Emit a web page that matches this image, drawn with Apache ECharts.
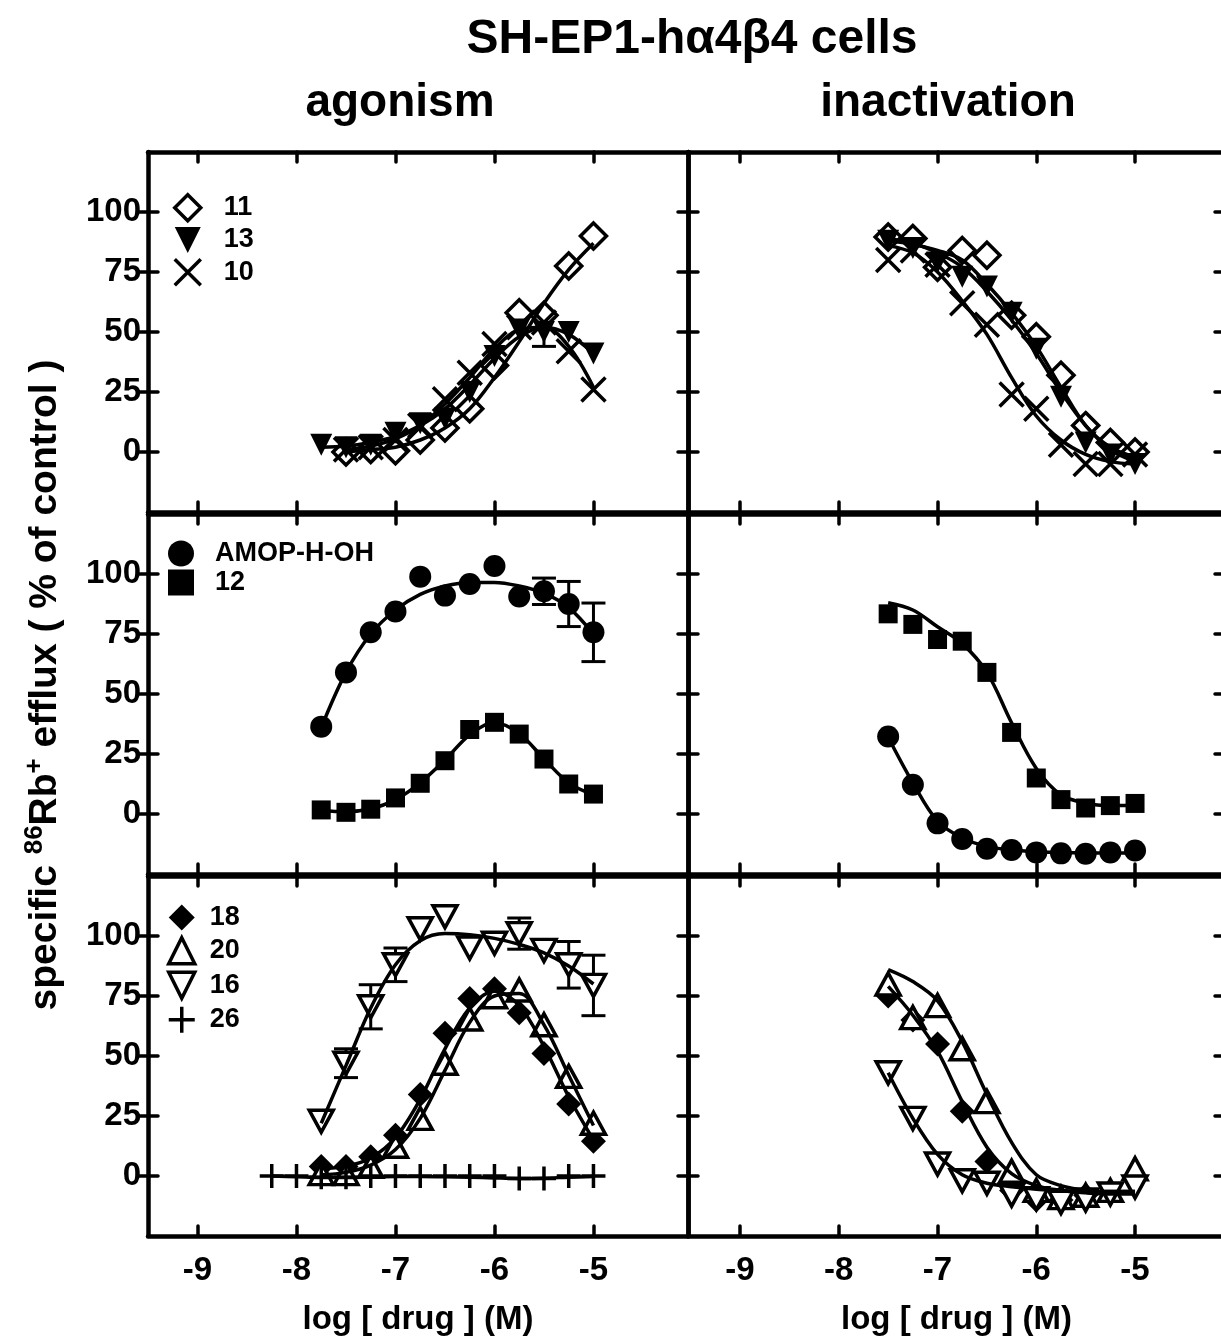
<!DOCTYPE html>
<html><head><meta charset="utf-8">
<script src="https://cdn.jsdelivr.net/npm/echarts@6/dist/echarts.min.js"></script>
<style>html,body{margin:0;padding:0;background:#fff}#c{width:1221px;height:1336px}</style>
</head><body><div id="c"></div><script>
// ---------- data ----------
const X12 = [-7.75,-7.5,-7.25,-7,-6.75,-6.5,-6.25,-6,-5.75,-5.5,-5.25,-5];
const X11 = [-7.5,-7.25,-7,-6.75,-6.5,-6.25,-6,-5.75,-5.5,-5.25,-5];
const X14 = [-8.25,-8,-7.75,-7.5,-7.25,-7,-6.75,-6.5,-6.25,-6,-5.75,-5.5,-5.25,-5];
const xTicks = [-9,-8,-7,-6,-5];
const yTicks = [0,25,50,75,100];

// agonism, top row
const ago11 = [0, 1, 0.5, 5, 10, 18, 36, 58, 57, 77.5, 90];
const ago11Fit = [0, 1, 2, 5, 10, 18, 31, 46, 62, 76, 87];
const ago13 = [3, 2, 3, 8, 12, 14, 25, 40, 51, 50, 50, 41];
const ago13Fit = [2, 2.5, 4, 6.5, 11, 18, 28, 39, 48, 52, 49, 41];
const ago13Err = [0,0,0,0,0,0,0,0,0,6,0,0];
const ago10 = [1, 2, 5, 11, 22, 33, 45, 52, 54, 42, 26];
const ago10Fit = [1, 2.5, 5.5, 11, 20, 31, 43, 51, 52, 44, 27];
// inactivation, top row
const ina11 = [89.6, 89, 77, 84, 82, 57, 48, 32, 11, 4, 0];
const ina11Fit = [88, 86.5, 84, 80, 70, 58, 44, 27, 11, 2, -2];
const ina13 = [88, 85, 79, 73, 69, 58, 43, 23, 4, -1, -5];
const ina13Fit = [89, 87, 83, 77, 67, 55, 41, 25, 11, 1, -4];
const ina10 = [80, 84, 78, 62, 53, 24, 18, 3, -5, -5, -1];
const ina10Fit = [86, 83, 75, 63, 49, 31, 15, 5, -1, -4, -5];
// middle row
const agoAMOP = [36.4, 59, 75.7, 84.4, 98.9, 91, 95.8, 103.3, 90.6, 92.8, 87.5, 75.7];
const agoAMOPFit = [36, 59, 75, 85, 91.5, 95, 96.5, 96.5, 95, 92, 86, 75];
const agoAMOPErr = [0,0,0,0,0,0,0,0,0,5.5,9.4,12.2];
const ago12 = [1.7, 0.7, 2, 6.7, 12.8, 22.2, 35.2, 38.2, 33.3, 22.9, 12.5, 8.3];
const ago12Fit = [1.5, 1, 2.2, 6, 13, 22.5, 33, 38, 33.5, 23, 13, 8];
const inaAMOP = [32.3, 12.2, -3.9, -10.4, -14.5, -15, -16, -16.4, -16.6, -16, -15.2];
const inaAMOPFit = [32, 13, -3, -10, -13.5, -15, -15.7, -16, -16.2, -16.3, -16.3];
const ina12 = [83.4, 79, 72.7, 72, 59, 34, 15, 6, 2.5, 3.5, 4.4];
const ina12Fit = [88, 85, 78, 71, 59, 38, 19, 8, 4.5, 3.5, 3.5];
// bottom row
const ago18 = [4, 4, 8, 17, 34, 59.5, 74, 78, 68, 51, 30, 14.5];
const ago18Fit = [3, 4, 7.5, 16, 32, 53, 70, 77, 71, 54, 33, 15];
const ago20 = [1, 1, 4, 12.4, 24, 47, 65.4, 74.7, 77.5, 63, 41.5, 22];
const ago20Fit = [0.5, 1.5, 4.5, 11, 24, 44, 64, 75, 76, 63, 42, 21];
const ago16 = [22.8, 47, 70.5, 88, 103, 108, 95, 97, 101, 94, 88, 79.4];
const ago16Fit = [22, 46, 70, 88, 98, 101, 100.5, 99, 96.5, 93, 87.5, 80];
const ago16Err = [0, 6, 9.2, 7, 0, 0, 0, 0, 6.5, 0, 9.7, 12.6];
const ago26 = [0, 0, -0.5, -0.5, 0, 0, 0, 0, 0, 0, -1, -1, 0, 0];
const ago26Fit = [0, -0.3, -0.6, -0.6, -0.4, -0.2, -0.2, -0.3, -0.5, -0.8, -1, -0.9, -0.5, -0.2];
const ina18 = [75, 65, 55, 27, 6, -6, -10, -10, -8, -7, -1];
const ina18Fit = [79, 67, 52, 31, 12, 1, -4, -6, -7, -7.5, -7.5];
const ina20 = [80, 66, 71, 53, 31, 2, -6, -9, -8, -6, 3];
const ina20Fit = [86, 81, 73, 56, 34, 14, 0.5, -4, -6, -6.5, -6.5];
const ina16 = [43, 24, 5, -2, -3, -8, -9.5, -11, -10, -7.5, -4.6];
const ina16Fit = [43, 24, 9, 0.5, -3, -4.5, -5.5, -6, -6.5, -6.5, -6.5];

const legendTop = ['11','13','10'];
const legendMid = ['AMOP-H-OH','12'];
const legendBot = ['18','20','16','26'];

// ---------- styling ----------
const FONT = "'Liberation Sans', Arial, Helvetica, sans-serif";
const INK = '#000';
const CLEAR = 'rgba(0,0,0,0)';
const SYM = {
  '11': {symbol:'diamond', size:26, fill:'#fff', bw:3.5},
  '13': {symbol:'path://M0,0L10,0L5,10Z', size:[22,22], fill:INK, bw:0},
  '10': {symbol:'path://M0,0L10,10M10,0L0,10', size:24, fill:CLEAR, bw:3.5},
  'AMOP-H-OH': {symbol:'circle', size:22, fill:INK, bw:0},
  '12': {symbol:'rect', size:19, fill:INK, bw:0},
  '18': {symbol:'diamond', size:25, fill:INK, bw:0},
  '20': {symbol:'path://M5,0L10,10L0,10Z', size:[24,22], fill:'#fff', bw:3.5},
  '16': {symbol:'path://M0,0L10,0L5,10Z', size:[24,22], fill:'#fff', bw:3.5},
  '26': {symbol:'path://M5,0L5,10M0,5L10,5', size:24, fill:CLEAR, bw:3.5}
};

const panels = [
  {row:0,col:0, sets:[['11',X11,ago11,ago11Fit],['13',X12,ago13,ago13Fit,ago13Err],['10',X11,ago10,ago10Fit]]},
  {row:0,col:1, sets:[['11',X11,ina11,ina11Fit],['13',X11,ina13,ina13Fit],['10',X11,ina10,ina10Fit]]},
  {row:1,col:0, sets:[['AMOP-H-OH',X12,agoAMOP,agoAMOPFit,agoAMOPErr],['12',X12,ago12,ago12Fit]]},
  {row:1,col:1, sets:[['AMOP-H-OH',X11,inaAMOP,inaAMOPFit],['12',X11,ina12,ina12Fit]]},
  {row:2,col:0, sets:[['18',X12,ago18,ago18Fit],['20',X12,ago20,ago20Fit],['16',X12,ago16,ago16Fit,ago16Err],['26',X14,ago26,ago26Fit]]},
  {row:2,col:1, sets:[['18',X11,ina18,ina18Fit],['20',X11,ina20,ina20Fit],['16',X11,ina16,ina16Fit]]}
];

const rowTop = [152, 514, 876], rowH = 360;
const colLeft = [148, 688], colW = [540, 537];
const colMin = [-9.5, -9.527], colMax = [-4.045, -4.089];

const lineW = 4.5, tickW = 3.5, tickLen = 10;
const labelStyle = {fontFamily:FONT, fontWeight:'bold', fontSize:33, color:INK};

const grids = [], xAxes = [], yAxes = [], series = [];

function pts(xs, ys){ return xs.map((x,i)=>[x, ys[i]]); }
function errData(xs, ys, es){ const o=[]; (es||[]).forEach((e,i)=>{ if(e>0) o.push([xs[i], ys[i], e]); }); return o; }

function renderErr(params, api){
  const x = api.value(0), y = api.value(1), e = api.value(2);
  const t = api.coord([x, y+e]), b = api.coord([x, y-e]);
  const hw = 12, st = {stroke:INK, lineWidth:3};
  return {type:'group', children:[
    {type:'line', shape:{x1:t[0],y1:t[1],x2:b[0],y2:b[1]}, style:st},
    {type:'line', shape:{x1:t[0]-hw,y1:t[1],x2:t[0]+hw,y2:t[1]}, style:st},
    {type:'line', shape:{x1:b[0]-hw,y1:b[1],x2:b[0]+hw,y2:b[1]}, style:st}
  ]};
}

panels.forEach((p, gi) => {
  grids.push({left:colLeft[p.col], top:rowTop[p.row], width:colW[p.col], height:rowH, outerBoundsMode:'none', containLabel:false});
  const axLine = {show:true, onZero:false, lineStyle:{color:INK, width:lineW}};
  const lastRow = p.row === 2;
  const tick = (inside) => ({show:true, inside, length:tickLen, lineStyle:{color:INK, width:tickW, cap:'round'}});
  xAxes.push({gridIndex:gi, type:'value', position:'bottom', min:colMin[p.col], max:colMax[p.col],
    axisLine:axLine, splitLine:{show:false},
    axisTick:{...tick(true), customValues:xTicks},
    axisLabel:{show:lastRow, customValues:xTicks, margin:18, ...labelStyle},
    name: lastRow ? 'log [ drug ] (M)' : '', nameLocation:'middle', nameGap:67,
    nameTextStyle:{fontFamily:FONT, fontWeight:'bold', fontSize:33, color:INK}
  });
  xAxes.push({gridIndex:gi, type:'value', position:'top', min:colMin[p.col], max:colMax[p.col],
    axisLine:axLine, splitLine:{show:false},
    axisTick:{...tick(true), customValues:xTicks},
    axisLabel:{show:false}
  });
  yAxes.push({gridIndex:gi, type:'value', position:'left', min:-25, max:125,
    axisLine:axLine, splitLine:{show:false},
    axisTick:{...tick(false), customValues:yTicks},
    axisLabel:{show:p.col===0, customValues:yTicks, margin:7, ...labelStyle}
  });
  yAxes.push({gridIndex:gi, type:'value', position:'left', min:-25, max:125,
    axisLine:{show:false, onZero:false}, splitLine:{show:false},
    axisTick:{...tick(true), customValues:yTicks},
    axisLabel:{show:false}
  });
  yAxes.push({gridIndex:gi, type:'value', position:'right', min:-25, max:125,
    axisLine:axLine, splitLine:{show:false},
    axisTick:{...tick(true), customValues:yTicks},
    axisLabel:{show:false}
  });
  const xi = gi*2, yi = gi*3;
  p.sets.forEach(([name, xs, ys, fit, err]) => {
    const s = SYM[name];
    series.push({type:'scatter', name, xAxisIndex:xi, yAxisIndex:yi, data:pts(xs, ys),
      symbol:s.symbol, symbolSize:s.size,
      itemStyle:{color:s.fill, borderColor:INK, borderWidth:s.bw, opacity:1},
      emphasis:{disabled:true}, z:3});
    series.push({type:'line', name:name+' fit', xAxisIndex:xi, yAxisIndex:yi, data:pts(xs, fit),
      smooth:0.35, showSymbol:false, symbol:'none',
      lineStyle:{color:INK, width:3.5}, emphasis:{disabled:true}, silent:true, z:4});
    const ed = errData(xs, ys, err);
    if (ed.length) series.push({type:'custom', name:name+' err', xAxisIndex:xi, yAxisIndex:yi,
      coordinateSystem:'cartesian2d', encode:{x:0, y:1}, data:ed, renderItem:renderErr, silent:true, z:2});
  });
});

function legendAt(names, left, top, gap, pad){
  return {data:names.map(n => ({name:n, itemStyle:{color:SYM[n].fill, borderColor:INK, borderWidth:SYM[n].bw}})),
    orient:'vertical', left, top, itemGap:gap, itemWidth:26, itemHeight:26,
    selectedMode:false, padding:0,
    textStyle:{fontFamily:FONT, fontWeight:'bold', fontSize:27, color:INK, padding:[0,0,0,pad]}};
}

const option = {
  animation:false,
  backgroundColor:'#fff',
  grid:grids, xAxis:xAxes, yAxis:yAxes, series,
  legend:[
    legendAt(legendTop, 173, 193, 4, 18),
    legendAt(legendMid, 168, 540, 2, 16),
    legendAt(legendBot, 167, 904, 5, 10)
  ],
  graphic:[
    {type:'text', x:692, y:40, style:{text:'SH-EP1-hα4β4 cells', font:'bold 48px '+FONT, fill:INK, textAlign:'center', textVerticalAlign:'middle'}},
    {type:'text', x:400, y:103, style:{text:'agonism', font:'bold 46px '+FONT, fill:INK, textAlign:'center', textVerticalAlign:'middle'}},
    {type:'text', x:948, y:103, style:{text:'inactivation', font:'bold 46px '+FONT, fill:INK, textAlign:'center', textVerticalAlign:'middle'}},
    {type:'text', x:45, y:685, rotation:Math.PI/2,
      style:{text:'specific {sup|86}Rb{sup|+} efflux ( % of control )',
        font:'bold 39px '+FONT, fill:INK, textAlign:'center', textVerticalAlign:'middle',
        rich:{sup:{fontFamily:FONT, fontWeight:'bold', fontSize:26, fill:INK, verticalAlign:'top', lineHeight:46}}}}
  ]
};

const chart = echarts.init(document.getElementById('c'), null, {renderer:'canvas', width:1221, height:1336});
chart.setOption(option);
</script></body></html>
